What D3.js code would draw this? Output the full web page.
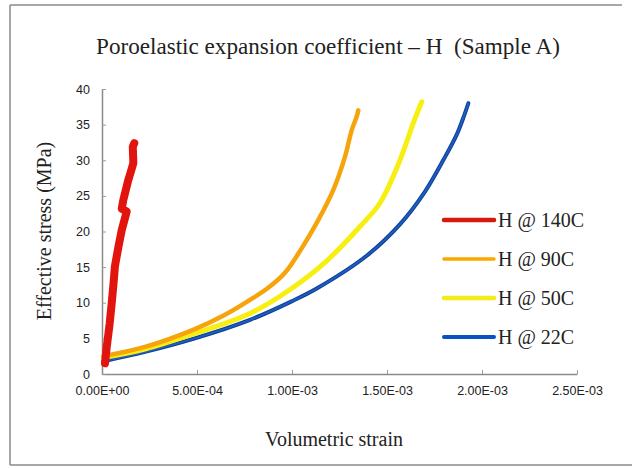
<!DOCTYPE html>
<html><head><meta charset="utf-8">
<script src="https://cdn.jsdelivr.net/npm/d3@7"></script>
<style>body{margin:0;background:#fff}svg{display:block}</style>
</head><body>
<svg id="c" width="632" height="468"></svg>
<script>
// ---- data ----
const xTicks = [0, 0.0005, 0.001, 0.0015, 0.002, 0.0025];
const xTickLabels = ["0.00E+00","5.00E-04","1.00E-03","1.50E-03","2.00E-03","2.50E-03"];
const yTicks = [0,5,10,15,20,25,30,35,40];
const seriesNames = ["H @ 140C","H @ 90C","H @ 50C","H @ 22C"];

const strain140 = [0.000016,0.000025,0.000040,0.000051,0.000060,0.000068,0.000086,0.000104,0.000118,0.000130,0.000104,0.000112,0.000125,0.000138,0.000152,0.000165,0.000162,0.000170];
const stress140 = [1.5,3.8,7.0,9.9,12.5,15.1,17.8,20.2,21.6,22.8,23.2,24.4,25.8,27.2,28.4,29.6,31.9,32.4];

const strain90 = [0.000007,0.000226,0.000489,0.000640,0.000779,0.000880,0.000963,0.001050,0.001130,0.001217,0.001279,0.001314,0.001340,0.001349];
const stress90 = [2.5,3.8,6.3,8.2,10.4,12.2,14.2,17.6,21.2,25.8,30.5,34.2,36.1,37.0];

const strain50 = [0.000007,0.000226,0.000489,0.000779,0.000998,0.001180,0.001358,0.001463,0.001568,0.001638,0.001683];
const stress50 = [2.3,3.5,5.7,8.5,12.0,15.8,20.7,24.0,30.0,35.2,38.2];

const strain22 = [0.000007,0.000226,0.000489,0.000779,0.000998,0.001130,0.001393,0.001568,0.001700,0.001800,0.001867,0.001905,0.001928];
const stress22 = [1.8,3.1,5.0,7.6,10.2,12.0,16.6,21.0,25.6,30.2,33.6,36.2,38.0];

// ---- chart ----
const svg = d3.select("#c");
const x = d3.scaleLinear().domain([0,0.0025]).range([102,577]);
const y = d3.scaleLinear().domain([0,40]).range([374,89]);
const serif = "'Liberation Serif','Times New Roman',serif";

// outer frame
const fr = svg.append("g").attr("stroke","#8a8a8a").attr("stroke-width",1.5);
fr.append("line").attr("x1",10).attr("y1",5).attr("x2",10).attr("y2",465);
fr.append("line").attr("x1",10).attr("y1",5).attr("x2",622).attr("y2",5);
fr.append("line").attr("x1",10).attr("y1",465).attr("x2",632).attr("y2",465);

// title
const title = svg.append("text").attr("x",328).attr("y",54).attr("text-anchor","middle")
  .attr("font-family",serif).attr("font-size",22).attr("fill","#222")
  .text("Poroelastic expansion coefficient – H\u00a0 (Sample A)");
const tw = title.node().getComputedTextLength();
title.attr("font-size", 22*464/tw);

// axes
const xAxis = d3.axisBottom(x).tickValues(xTicks).tickFormat((d,i)=>xTickLabels[i]).tickSizeInner(-4).tickSizeOuter(0).tickPadding(12);
const gx = svg.append("g").attr("transform",`translate(0,${y(0)})`).call(xAxis);
const yAxis = d3.axisLeft(y).tickValues(yTicks).tickSizeInner(-4).tickSizeOuter(0).tickPadding(12);
const gy = svg.append("g").attr("transform",`translate(${x(0)},0)`).call(yAxis);
[gx,gy].forEach(g=>{
  g.select(".domain").attr("stroke","#8a8a8a").attr("stroke-width",1.5);
  g.selectAll(".tick line").attr("stroke","#9a9a9a");
  g.selectAll(".tick text").attr("font-family","'Liberation Sans',Arial,sans-serif").attr("font-size",12.5).attr("fill","#222");
});

// axis titles
svg.append("text").attr("x",334).attr("y",446).attr("text-anchor","middle")
  .attr("font-family",serif).attr("font-size",20).attr("fill","#222")
  .text("Volumetric strain");
svg.append("text").attr("transform","translate(51,231) rotate(-90)").attr("text-anchor","middle")
  .attr("font-family",serif).attr("font-size",20).attr("fill","#222")
  .text("Effective stress (MPa)");

// series
const smooth = d3.line().x(d=>x(d[0])).y(d=>y(d[1])).curve(d3.curveCatmullRom.alpha(0.5));
const straight = d3.line().x(d=>x(d[0])).y(d=>y(d[1]));
const zip = (a,b)=>a.map((v,i)=>[v,b[i]]);

svg.append("path").attr("d",smooth(zip(strain22,stress22))).attr("fill","none")
  .attr("stroke","#0c3f94").attr("stroke-width",4).attr("stroke-linecap","round");
svg.append("path").attr("d",smooth(zip(strain22,stress22))).attr("fill","none")
  .attr("stroke","#1f5cc0").attr("stroke-width",2).attr("stroke-linecap","round");
svg.append("path").attr("d",smooth(zip(strain50,stress50))).attr("fill","none")
  .attr("stroke","#f8ef12").attr("stroke-width",5).attr("stroke-linecap","round");
svg.append("path").attr("d",smooth(zip(strain90,stress90))).attr("fill","none")
  .attr("stroke","#f6a40c").attr("stroke-width",4.5).attr("stroke-linecap","round").attr("stroke-linejoin","round");
svg.append("path").attr("d",straight(zip(strain140,stress140))).attr("fill","none")
  .attr("stroke","#e2150e").attr("stroke-width",8).attr("stroke-linecap","round").attr("stroke-linejoin","round");

// legend
const legColors = ["#d5190f","#fba800","#f2ec1a","#0652c2"];
const legW = [4.5,3.5,4.5,4];
const legY = [220,259,298,337];
const lg = svg.append("g");
seriesNames.forEach((n,i)=>{
  lg.append("line").attr("x1",444).attr("x2",494).attr("y1",legY[i]).attr("y2",legY[i])
    .attr("stroke",legColors[i]).attr("stroke-width",legW[i]).attr("stroke-linecap","round");
  lg.append("text").attr("x",498).attr("y",legY[i]+7)
    .attr("font-family",serif).attr("font-size",20).attr("fill","#222")
    .text(n);
});
</script>
</body></html>
